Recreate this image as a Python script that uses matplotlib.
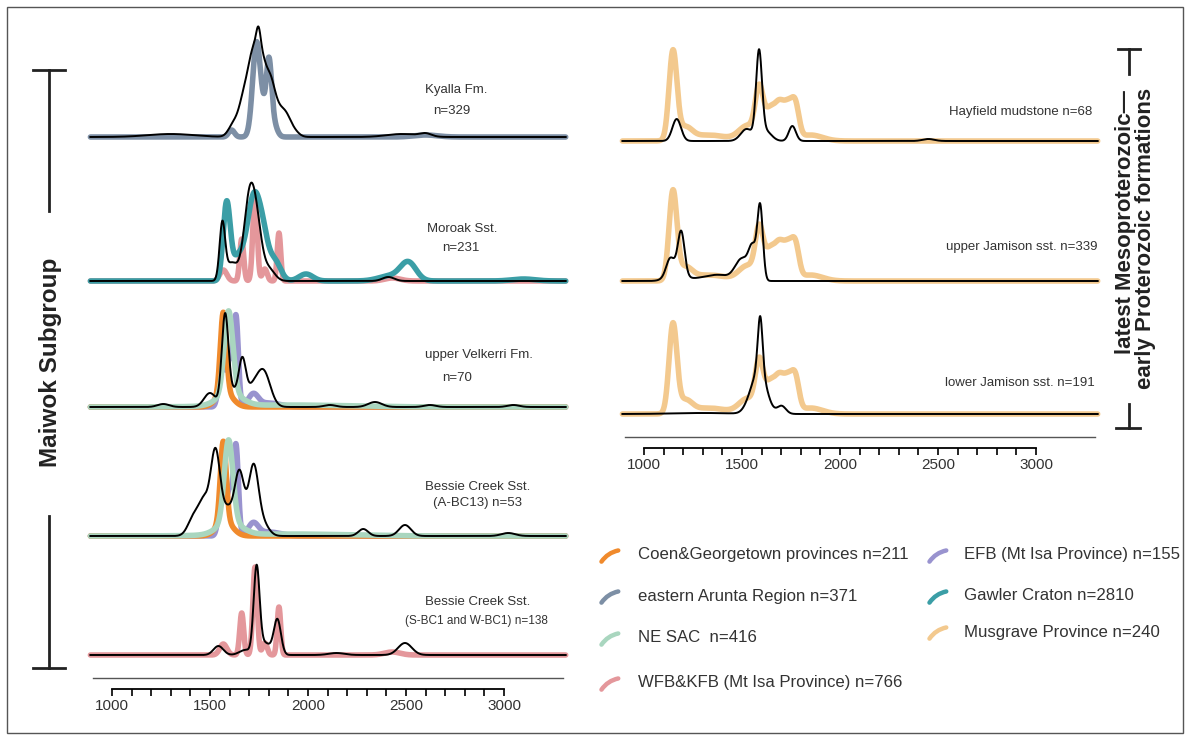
import numpy as np
import matplotlib
matplotlib.use("Agg")
import matplotlib.pyplot as plt
from matplotlib.lines import Line2D
from matplotlib.patches import FancyArrowPatch, Rectangle

plt.rcParams['font.family'] = ['Liberation Sans', 'DejaVu Sans']

# age spectra as KDE peaks: (age in Ma, relative height, bandwidth in Ma)
coen_georgetown = [(1568, 0.80, 15), (1575, 0.15, 40)]
eastern_arunta = [(1610, 0.07, 15), (1738, 0.95, 20), (1770, 0.12, 12),
                  (1800, 0.74, 14), (1825, 0.12, 18), (2600, 0.02, 60)]
ne_sac = [(1595, 0.82, 22), (1600, 0.13, 60), (1900, 0.02, 300)]
wfb_kfb = [(1568, 0.11, 18), (1662, 0.42, 10), (1730, 0.88, 11),
           (1780, 0.12, 12), (1852, 0.48, 9), (2430, 0.03, 40)]
efb = [(1560, 0.45, 15), (1600, 0.45, 15), (1633, 0.88, 12),
       (1721, 0.12, 25), (1800, 0.04, 60)]
gawler = [(1585, 0.76, 18), (1640, 0.22, 30), (1725, 0.85, 35),
          (1775, 0.25, 25), (1830, 0.20, 30), (1990, 0.07, 35),
          (2420, 0.05, 60), (2512, 0.18, 40), (3100, 0.02, 60)]
musgrave = [(1148, 0.88, 20), (1210, 0.12, 35), (1330, 0.06, 90),
            (1530, 0.15, 45), (1588, 0.47, 20), (1640, 0.28, 25),
            (1690, 0.33, 25), (1740, 0.33, 25), (1775, 0.25, 18),
            (1850, 0.06, 60)]

kyalla = [(1300, 0.03, 120), (1620, 0.12, 25), (1670, 0.30, 25),
          (1725, 0.85, 30), (1748, 0.30, 12), (1770, 0.20, 15),
          (1800, 0.55, 28), (1850, 0.20, 30), (1890, 0.15, 25),
          (1930, 0.05, 25), (2480, 0.03, 80), (2600, 0.03, 30)]
moroak = [(1563, 0.55, 14), (1610, 0.18, 30), (1705, 0.88, 30),
          (1745, 0.30, 25), (1800, 0.12, 30), (2410, 0.04, 30)]
upper_velkerri = [(1262, 0.03, 30), (1500, 0.14, 30), (1577, 0.90, 17),
                  (1620, 0.15, 25), (1665, 0.42, 18), (1710, 0.15, 30),
                  (1772, 0.36, 35), (2112, 0.02, 30), (2342, 0.05, 35),
                  (2622, 0.02, 30), (3048, 0.02, 30)]
bessie_abc13 = [(1420, 0.20, 30), (1470, 0.30, 25), (1528, 0.85, 25),
                (1590, 0.24, 25), (1650, 0.64, 25), (1722, 0.68, 25),
                (1770, 0.12, 30), (2282, 0.07, 25), (2495, 0.11, 30),
                (3022, 0.03, 35)]
bessie_sbc1_wbc1 = [(1543, 0.09, 25), (1680, 0.05, 30), (1738, 0.85, 15),
                    (1780, 0.12, 30), (1844, 0.35, 18), (2146, 0.02, 40),
                    (2495, 0.12, 35)]
hayfield = [(1167, 0.22, 22), (1524, 0.12, 30), (1587, 0.85, 15),
            (1620, 0.10, 30), (1757, 0.15, 18), (2451, 0.02, 30)]
upper_jamison = [(1133, 0.15, 20), (1160, 0.10, 40), (1190, 0.42, 17),
                 (1300, 0.03, 60), (1388, 0.05, 50), (1500, 0.22, 35),
                 (1555, 0.30, 20), (1593, 0.72, 14)]
lower_jamison = [(1300, 0.01, 150), (1545, 0.10, 30), (1593, 0.55, 12),
                 (1593, 0.40, 35), (1702, 0.08, 22)]

legend_left = ['Coen&Georgetown provinces n=211', 'eastern Arunta Region n=371',
               'NE SAC  n=416', 'WFB&KFB (Mt Isa Province) n=766']
legend_right = ['EFB (Mt Isa Province) n=155', 'Gawler Craton n=2810',
                'Musgrave Province n=240']

C_COEN = '#f08a2c'
C_ARUNTA = '#7d8fa5'
C_NESAC = '#a9d6bf'
C_WFB = '#e4979b'
C_EFB = '#9993cf'
C_GAWLER = '#3b9ea6'
C_MUSG = '#f3c98e'
TXT = '#333333'

W, H = 1190, 740
fig = plt.figure(figsize=(W / 100, H / 100), dpi=100)
XMIN, XMAX = 890, 3315
age = np.linspace(XMIN, XMAX, 3000)


def density(peaks):
    y = np.zeros_like(age)
    for a, h, s in peaks:
        y += h * np.exp(-0.5 * ((age - a) / s) ** 2)
    return y


def px_axes(left, top, right, bottom):
    return fig.add_axes([left / W, 1 - bottom / H, (right - left) / W, (bottom - top) / H])


def fx(x):
    return x / W


def fy(y):
    return 1 - y / H


def panel(x0, x1, base, refs, sample):
    ax = px_axes(x0, base - 100, x1, base)
    ax.set_xlim(XMIN, XMAX)
    ax.set_ylim(0, 1)
    ax.axis('off')
    for peaks, col in refs:
        ax.plot(age, density(peaks), color=col, lw=4, solid_capstyle='round', clip_on=False)
    ax.plot(age, density(sample), color='black', lw=1.4, clip_on=False)
    return ax


LX0, LX1 = 90.4, 565.7
RX0, RX1 = 622.4, 1097.7

panel(LX0, LX1, 137, [(eastern_arunta, C_ARUNTA)], kyalla)
panel(LX0, LX1, 281, [(wfb_kfb, C_WFB), (gawler, C_GAWLER)], moroak)
panel(LX0, LX1, 407, [(efb, C_EFB), (coen_georgetown, C_COEN), (ne_sac, C_NESAC)], upper_velkerri)
panel(LX0, LX1, 536, [(efb, C_EFB), (coen_georgetown, C_COEN), (ne_sac, C_NESAC)], bessie_abc13)
panel(LX0, LX1, 655, [(wfb_kfb, C_WFB)], bessie_sbc1_wbc1)
panel(RX0, RX1, 141, [(musgrave, C_MUSG)], hayfield)
panel(RX0, RX1, 281, [(musgrave, C_MUSG)], upper_jamison)
panel(RX0, RX1, 414, [(musgrave, C_MUSG)], lower_jamison)

# sample names
labels = [
    ('Kyalla Fm.', 425, 90, 'left', 9.5), ('n=329', 433, 111, 'left', 9.5),
    ('Moroak Sst.', 427, 229, 'left', 9.5), ('n=231', 442, 248, 'left', 9.5),
    ('upper Velkerri Fm.', 425, 355, 'left', 9.5), ('n=70', 442, 378, 'left', 9.5),
    ('Bessie Creek Sst.', 425, 487, 'left', 9.5), ('(A-BC13) n=53', 433, 503, 'left', 9.5),
    ('Bessie Creek Sst.', 425, 602, 'left', 9.5),
    ('(S-BC1 and W-BC1) n=138', 405, 621, 'left', 8.5),
    ('Hayfield mudstone n=68', 1092, 112, 'right', 9.5),
    ('upper Jamison sst. n=339', 1097, 247, 'right', 9.5),
    ('lower Jamison sst. n=191', 1095, 383, 'right', 9.5),
]
for s, x, y, ha, fs in labels:
    fig.text(fx(x), fy(y), s, ha=ha, va='center', fontsize=fs, color=TXT)

# age axes
for x0, x1, ybar in [(LX0, LX1, 689), (RX0, RX1, 448)]:
    tax = px_axes(x0, ybar - 40, x1, ybar)
    tax.set_xlim(XMIN, XMAX)
    tax.patch.set_visible(False)
    for side in ['top', 'left', 'right']:
        tax.spines[side].set_visible(False)
    tax.spines['bottom'].set_bounds(1000, 3000)
    tax.spines['bottom'].set_linewidth(1.3)
    tax.set_yticks([])
    tax.set_xticks([1000, 1500, 2000, 2500, 3000])
    tax.set_xticks(np.arange(1000, 3001, 100), minor=True)
    tax.tick_params(axis='x', which='both', direction='out', length=5, width=1.2,
                    labelsize=11, pad=2, labelcolor=TXT)

# thin separators above the age axes
fig.add_artist(Line2D([fx(93), fx(563)], [fy(678), fy(678)], color='#555555', lw=1))
fig.add_artist(Line2D([fx(625), fx(1095)], [fy(437), fy(437)], color='#555555', lw=1))

# legend
leg_left = [(legend_left[0], C_COEN, 555), (legend_left[1], C_ARUNTA, 596),
            (legend_left[2], C_NESAC, 638), (legend_left[3], C_WFB, 683)]
leg_right = [(legend_right[0], C_EFB, 555), (legend_right[1], C_GAWLER, 596),
             (legend_right[2], C_MUSG, 632)]
for entries, xm, xt in [(leg_left, 600, 638), (leg_right, 928, 964)]:
    for name, col, y in entries:
        arc = FancyArrowPatch((fx(xm), fy(y + 9)), (fx(xm + 21), fy(y - 5)),
                              transform=fig.transFigure, arrowstyle='-',
                              connectionstyle='arc3,rad=-0.25', color=col, lw=3.2,
                              capstyle='round')
        fig.add_artist(arc)
        fig.text(fx(xt), fy(y), name, ha='left', va='center', fontsize=12.1, color=TXT)

# group brackets
bk = dict(color='#222222', lw=2)
fig.add_artist(Line2D([fx(33), fx(65)], [fy(70), fy(70)], **bk))
fig.add_artist(Line2D([fx(49), fx(49)], [fy(70), fy(211)], **bk))
fig.add_artist(Line2D([fx(49), fx(49)], [fy(516), fy(668)], **bk))
fig.add_artist(Line2D([fx(33), fx(65)], [fy(668), fy(668)], **bk))
fig.text(fx(51), fy(362), 'Maiwok Subgroup', rotation=90, ha='center', va='center',
         fontsize=17.5, fontweight='bold', color='#222222')

fig.add_artist(Line2D([fx(1118), fx(1140)], [fy(49), fy(49)], **bk))
fig.add_artist(Line2D([fx(1129), fx(1129)], [fy(49), fy(74)], **bk))
fig.add_artist(Line2D([fx(1129), fx(1129)], [fy(404), fy(428)], **bk))
fig.add_artist(Line2D([fx(1116), fx(1140)], [fy(428), fy(428)], **bk))
fig.text(fx(1125), fy(222), 'latest Mesoproterozoic\u2014', rotation=90, ha='center',
         va='center', fontsize=16, fontweight='bold', color='#222222')
fig.text(fx(1146), fy(238), 'early Proterozoic formations', rotation=90, ha='center',
         va='center', fontsize=16, fontweight='bold', color='#222222')

# outer frame
fig.add_artist(Rectangle((fx(7), fy(733)), fx(1176), (733 - 7) / H, transform=fig.transFigure,
                         fill=False, edgecolor='#555555', lw=1))

fig.savefig('out.png', dpi=100)
